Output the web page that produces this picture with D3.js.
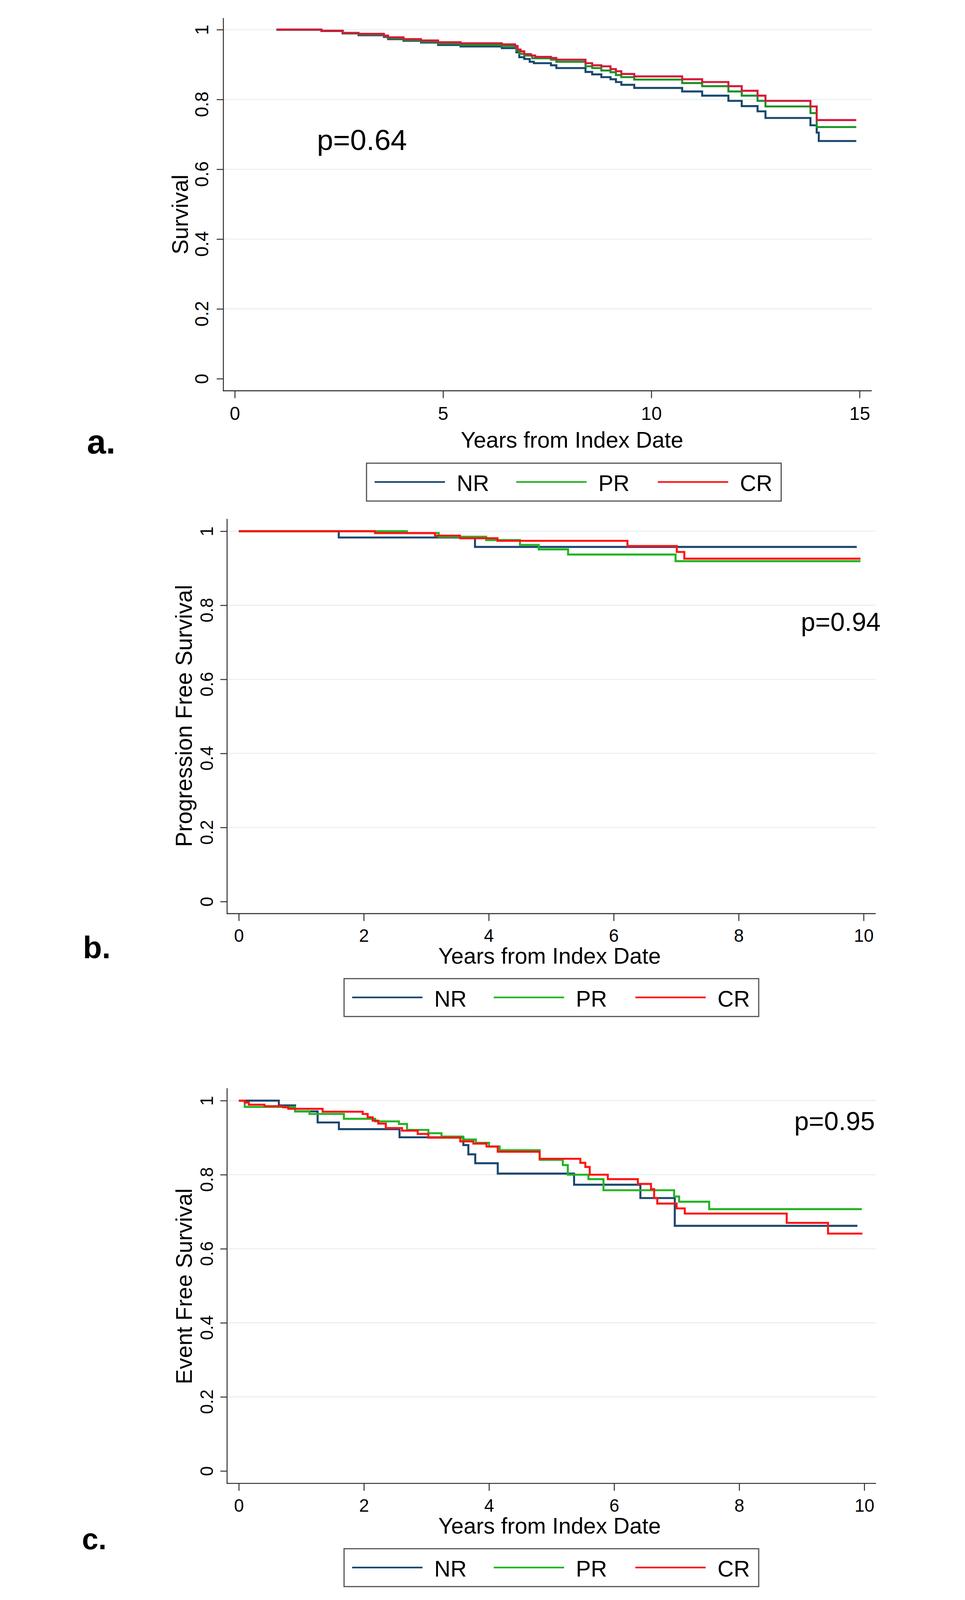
<!DOCTYPE html>
<html><head><meta charset="utf-8">
<script src="https://cdn.jsdelivr.net/npm/d3@7"></script>
<style>
html,body{margin:0;padding:0;background:#fff;overflow:hidden}
svg{display:block;background:#fff;width:100vw;height:100vh}
text{font-family:"Liberation Sans",Arial,Helvetica,sans-serif;fill:#000}
</style>
</head><body>
<svg id="chart" viewBox="0 0 2470 4774" preserveAspectRatio="xMidYMid meet"></svg>
<script>
// ---------------- data ----------------
const groups = ["NR", "PR", "CR"];
const yTicks = [0, 0.2, 0.4, 0.6, 0.8, 1];
const xTicksA = [0, 5, 10, 15];
const xTicksB = [0, 2, 4, 6, 8, 10];
const xTicksC = [0, 2, 4, 6, 8, 10];
const pValues = ["p=0.64", "p=0.94", "p=0.95"];
const yTitles = ["Survival", "Progression Free Survival", "Event Free Survival"];
const xTitle = "Years from Index Date";
const panelLetters = ["a.", "b.", "c."];

// Overall survival (panel a): [years, survival]
const osNR = [[1,1],[2.08,0.996],[2.59,0.989],[2.97,0.984],[3.58,0.979],[3.68,0.973],[4.05,0.968],[4.47,0.963],[4.88,0.956],[5.42,0.952],[6.41,0.947],[6.76,0.935],[6.83,0.921],[6.95,0.916],[7.08,0.908],[7.18,0.904],[7.59,0.898],[7.72,0.890],[8.42,0.879],[8.58,0.872],[8.80,0.864],[9.02,0.858],[9.15,0.850],[9.28,0.842],[9.59,0.833],[10.74,0.823],[11.22,0.811],[11.85,0.796],[12.17,0.781],[12.55,0.766],[12.74,0.747],[13.82,0.726],[13.97,0.705],[14.02,0.681],[14.92,0.681]];
const osPR = [[1,1],[2.08,0.997],[2.59,0.990],[2.97,0.986],[3.58,0.981],[3.68,0.975],[4.05,0.970],[4.47,0.966],[4.88,0.960],[5.42,0.956],[6.41,0.953],[6.76,0.940],[6.83,0.931],[6.95,0.926],[7.14,0.918],[7.59,0.914],[7.72,0.908],[8.42,0.895],[8.58,0.890],[8.80,0.883],[9.02,0.878],[9.15,0.870],[9.28,0.864],[9.59,0.857],[10.74,0.847],[11.22,0.838],[11.85,0.823],[12.17,0.811],[12.55,0.796],[12.74,0.780],[13.82,0.761],[13.97,0.721],[14.92,0.721]];
const osCR = [[1,1],[2.08,0.997],[2.59,0.991],[2.97,0.988],[3.58,0.983],[3.68,0.978],[4.05,0.973],[4.47,0.969],[4.88,0.964],[5.42,0.961],[6.41,0.958],[6.73,0.953],[6.79,0.943],[6.86,0.938],[6.95,0.930],[7.11,0.926],[7.21,0.922],[7.59,0.919],[7.72,0.914],[8.42,0.904],[8.58,0.898],[8.80,0.895],[9.02,0.887],[9.15,0.881],[9.28,0.873],[9.59,0.866],[10.74,0.858],[11.22,0.850],[11.85,0.838],[12.17,0.825],[12.55,0.811],[12.74,0.796],[13.82,0.780],[13.97,0.741],[14.92,0.741]];

// Progression free survival (panel b)
const pfsNR = [[0,1],[1.60,0.983],[3.78,0.9575],[9.89,0.9575]];
const pfsPR = [[0,1],[2.69,0.995],[3.20,0.985],[3.96,0.976],[4.50,0.963],[4.80,0.951],[5.27,0.937],[6.99,0.919],[9.95,0.919]];
const pfsCR = [[0,1],[2.18,0.995],[3.14,0.988],[3.54,0.981],[4.14,0.974],[6.22,0.960],[7.01,0.944],[7.13,0.926],[9.95,0.926]];

// Event free survival (panel c)
const efsNR = [[0,1],[0.64,0.987],[0.90,0.971],[1.26,0.941],[1.60,0.923],[2.57,0.901],[3.59,0.880],[3.67,0.855],[3.78,0.831],[4.14,0.803],[5.36,0.773],[6.42,0.737],[6.97,0.662],[9.89,0.662]];
const efsPR = [[0,1],[0.095,0.983],[0.90,0.971],[1.13,0.964],[1.68,0.951],[2.18,0.944],[2.56,0.937],[2.69,0.921],[3.03,0.912],[3.24,0.903],[3.58,0.895],[3.79,0.886],[4.00,0.876],[4.17,0.866],[4.81,0.840],[5.18,0.826],[5.26,0.800],[5.59,0.788],[5.83,0.758],[6.96,0.741],[7.04,0.727],[7.52,0.707],[9.96,0.707]];
const efsCR = [[0,1],[0.095,0.995],[0.16,0.989],[0.41,0.985],[0.71,0.982],[0.79,0.978],[1.34,0.970],[1.98,0.964],[2.06,0.955],[2.14,0.946],[2.23,0.938],[2.35,0.926],[2.61,0.919],[2.86,0.910],[3.03,0.900],[3.54,0.890],[3.75,0.884],[3.96,0.876],[4.14,0.862],[4.81,0.843],[5.46,0.832],[5.54,0.821],[5.61,0.800],[5.90,0.788],[6.38,0.775],[6.59,0.761],[6.64,0.737],[6.69,0.722],[7.00,0.709],[7.13,0.695],[8.76,0.670],[9.42,0.641],[9.97,0.641]];

// ---------------- styles / layout ----------------
const legendColors = {NR: "#1a476f", PR: "#22b422", CR: "#ff1414"};
const curveColorsA = {NR: "#1a476f", PR: "#1c9226", CR: "#d41a3a"};
const curveColorsBC = {NR: "#1a476f", PR: "#22b422", CR: "#ff1414"};

const panels = [
  {series: [osNR, osPR, osCR], xTicks: xTicksA, xDomain: [0, 15],
   axisX: 462, axisTop: 54, axisBottom: 1166, right: 2396,
   xRange: [496, 2360], yRange: [1130, 88.5],
   tickFont: 56, yTickFont: 55, yLabelX: 417, yTitleX: 356, yTitleY: 640, yTitleFont: 67,
   xLabelPad: 25, xTitleX: 1170, xTitleY: 1336, titleFont: 67,
   pX: 741, pY: 447, pFont: 87,
   letterX: 55, letterY: 1353, letterFont: 102,
   legX: 889, legY: 1382, colors: curveColorsA},
  {series: [pfsNR, pfsPR, pfsCR], xTicks: xTicksB, xDomain: [0, 10],
   axisX: 473, axisTop: 1548, axisBottom: 2726, right: 2408,
   xRange: [508, 2372], yRange: [2690, 1585],
   tickFont: 53, yTickFont: 53, yLabelX: 431, yTitleX: 368, yTitleY: 2136, yTitleFont: 68,
   xLabelPad: 24, xTitleX: 1103, xTitleY: 2875, titleFont: 67,
   pX: 2185, pY: 1882, pFont: 77,
   letterX: 43, letterY: 2859, letterFont: 93,
   legX: 822, legY: 2920, colors: curveColorsBC},
  {series: [efsNR, efsPR, efsCR], xTicks: xTicksC, xDomain: [0, 10],
   axisX: 473, axisTop: 3247, axisBottom: 4426, right: 2409,
   xRange: [508, 2374], yRange: [4389, 3284],
   tickFont: 53, yTickFont: 53, yLabelX: 431, yTitleX: 368, yTitleY: 3838, yTitleFont: 67,
   xLabelPad: 25, xTitleX: 1103, xTitleY: 4576, titleFont: 67,
   pX: 2165, pY: 3372, pFont: 78,
   letterX: 40, letterY: 4622, letterFont: 88,
   legX: 822, legY: 4621, colors: curveColorsBC}
];

const svg = d3.select("#chart");
svg.append("rect").attr("width", 2470).attr("height", 4774).attr("fill", "#fff");

panels.forEach((p, i) => {
  const g = svg.append("g");
  const x = d3.scaleLinear().domain(p.xDomain).range(p.xRange);
  const y = d3.scaleLinear().domain([0, 1]).range(p.yRange);

  // horizontal gridlines
  g.append("g").selectAll("line").data(yTicks.filter(v => v > 0)).join("line")
    .attr("x1", p.axisX + 2).attr("x2", p.right)
    .attr("y1", d => y(d)).attr("y2", d => y(d))
    .attr("stroke", "#e9f1f3").attr("stroke-width", 3.5);

  // Kaplan-Meier step curves
  const line = d3.line().x(d => x(d[0])).y(d => y(d[1])).curve(d3.curveStepAfter);
  p.series.forEach((s, k) => {
    g.append("path").datum(s).attr("d", line)
      .attr("fill", "none").attr("stroke", p.colors[groups[k]])
      .attr("stroke-width", 6).attr("stroke-linejoin", "miter").attr("stroke-linecap", "butt");
  });

  // axis lines
  g.append("line").attr("x1", p.axisX).attr("x2", p.axisX)
    .attr("y1", p.axisTop).attr("y2", p.axisBottom + 1.5)
    .attr("stroke", "#333").attr("stroke-width", 3);
  g.append("line").attr("x1", p.axisX - 1.5).attr("x2", p.right)
    .attr("y1", p.axisBottom).attr("y2", p.axisBottom)
    .attr("stroke", "#333").attr("stroke-width", 3);

  // x axis ticks and labels
  const xa = g.append("g").attr("transform", `translate(0,${p.axisBottom})`)
    .call(d3.axisBottom(x).tickValues(p.xTicks).tickSize(22).tickPadding(p.xLabelPad).tickFormat(d3.format("d")));
  xa.select(".domain").remove();
  xa.selectAll(".tick line").attr("stroke", "#333").attr("stroke-width", 3);
  xa.selectAll(".tick text").attr("font-size", p.tickFont).attr("fill", "#111")
    .attr("font-family", '"Liberation Sans",Arial,sans-serif');

  // y axis ticks and rotated labels
  const ya = g.append("g").attr("transform", `translate(${p.axisX},0)`)
    .call(d3.axisLeft(y).tickValues(yTicks).tickSize(20).tickFormat(d => d3.format("")(d)));
  ya.select(".domain").remove();
  ya.selectAll(".tick line").attr("stroke", "#333").attr("stroke-width", 3);
  ya.selectAll(".tick text")
    .attr("x", null).attr("dy", null).attr("y", null)
    .attr("text-anchor", "middle")
    .attr("font-size", p.yTickFont).attr("fill", "#222")
    .attr("font-family", '"Liberation Sans",Arial,sans-serif')
    .attr("transform", d => `translate(${p.yLabelX - p.axisX},${(d % 1) ? 14 : 0}) rotate(-90)`);

  // axis titles
  g.append("text").attr("transform", `translate(${p.yTitleX},${p.yTitleY}) rotate(-90)`)
    .attr("text-anchor", "middle").attr("font-size", p.yTitleFont).text(yTitles[i]);
  g.append("text").attr("x", p.xTitleX).attr("y", p.xTitleY)
    .attr("font-size", p.titleFont).text(xTitle);

  // p-value
  g.append("text").attr("x", p.pX).attr("y", p.pY)
    .attr("font-size", p.pFont).text(pValues[i]);

  // panel letter
  g.append("text").attr("x", p.letterX).attr("y", p.letterY)
    .attr("font-size", p.letterFont).attr("font-weight", 700)
    .attr("font-family", "Lato, 'Open Sans', sans-serif").text(panelLetters[i]);

  // legend
  const lg = g.append("g").attr("transform", `translate(${p.legX},${p.legY})`);
  lg.append("rect").attr("x", 0).attr("y", 0).attr("width", 1237).attr("height", 113)
    .attr("fill", "#fff").attr("stroke", "#555").attr("stroke-width", 3.5);
  groups.forEach((gr, k) => {
    const ox = 24 + k * 422.5;
    lg.append("line").attr("x1", ox).attr("x2", ox + 210).attr("y1", 56).attr("y2", 56)
      .attr("stroke", legendColors[gr]).attr("stroke-width", 5);
    lg.append("text").attr("x", ox + 245).attr("y", 83).attr("font-size", 67).text(gr);
  });
});
</script>
</body></html>
